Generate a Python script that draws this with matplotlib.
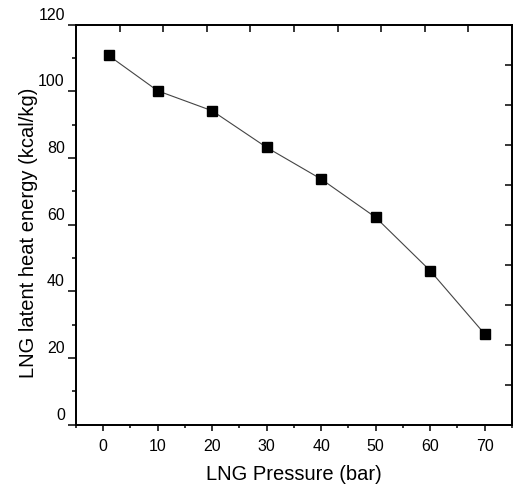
import matplotlib
matplotlib.use("Agg")
import matplotlib.pyplot as plt
import matplotlib.transforms as mtransforms
from matplotlib.ticker import MultipleLocator

# data
pressure_bar = [1, 10, 20, 30, 40, 50, 60, 70]
latent_heat = [110.8, 100.2, 94.2, 83.2, 73.7, 62.2, 46.2, 27.2]

plt.rcParams["font.family"] = ["Liberation Sans", "DejaVu Sans"]

fig = plt.figure(figsize=(5.13, 4.87), dpi=100)
ax = fig.add_axes([0.148, 0.128, 0.85, 0.821])

ax.plot(pressure_bar, latent_heat, color="#444444", lw=0.8,
        marker="s", markersize=6.5, markerfacecolor="black",
        markeredgecolor="black", zorder=3)

ax.set_xlim(-5, 75)
ax.set_ylim(0, 120)
ax.xaxis.set_major_locator(MultipleLocator(10))
ax.xaxis.set_minor_locator(MultipleLocator(5))
ax.yaxis.set_major_locator(MultipleLocator(20))
ax.yaxis.set_minor_locator(MultipleLocator(10))

ax.tick_params(axis="x", which="major", direction="out", length=4, width=1.1,
               labelsize=11.5, pad=6)
ax.tick_params(axis="x", which="minor", direction="out", length=2.5, width=1.1)
ax.tick_params(axis="y", which="major", direction="out", length=6, width=1.1,
               labelsize=11.5, pad=2)
ax.tick_params(axis="y", which="minor", direction="out", length=3, width=1.1)

# y tick labels sit a bit above their ticks in the original
offset = mtransforms.ScaledTranslation(0, 8 / 72, fig.dpi_scale_trans)
for lab in ax.get_yticklabels():
    lab.set_transform(lab.get_transform() + offset)

for sp in ax.spines.values():
    sp.set_linewidth(1.1)

ax.set_xlabel("LNG Pressure (bar)", fontsize=14.5)
ax.set_ylabel("LNG latent heat energy (kcal/kg)", fontsize=14.5)
ax.xaxis.set_label_coords(0.5, -0.102)
ax.yaxis.set_label_coords(-0.088, 0.48)

# top and right axes carry their own inward ticks (10 divisions)
top = ax.twiny()
top.set_xlim(0, 10)
top.set_xticks(range(1, 10))
top.tick_params(axis="x", direction="in", length=5, width=1.1, labeltop=False)
right = ax.twinx()
right.set_ylim(0, 10)
right.set_yticks(range(1, 10))
right.tick_params(axis="y", direction="in", length=5, width=1.1, labelright=False)
for a in (top, right):
    for sp in a.spines.values():
        sp.set_linewidth(1.1)

fig.savefig("out.png", dpi=100)
